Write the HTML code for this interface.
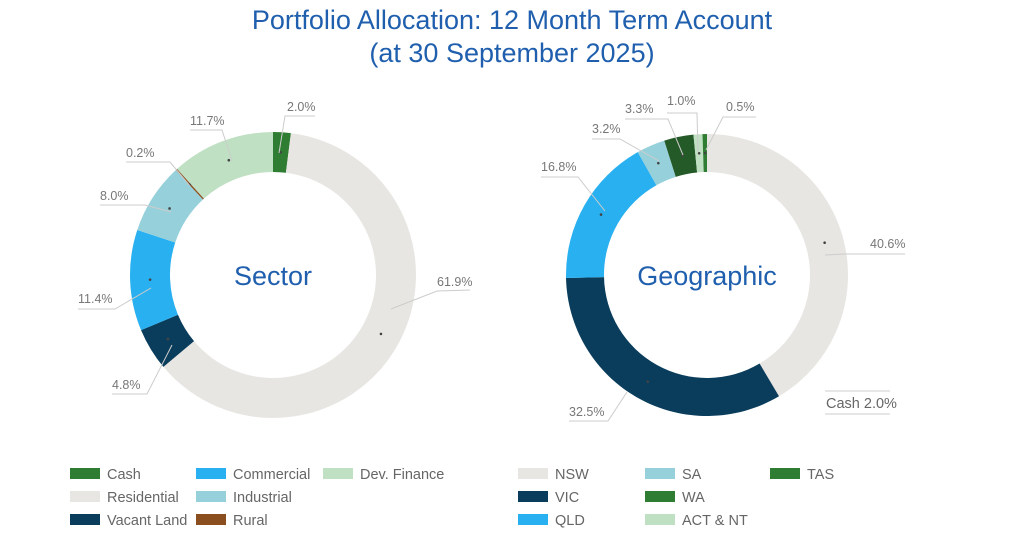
<!DOCTYPE html>
<html><head><meta charset="utf-8"><style>
html,body{margin:0;padding:0;background:#fff;width:1024px;height:548px;overflow:hidden}
svg{display:block}
text{font-family:"Liberation Sans",sans-serif}
.t{fill:#1f5fae;font-size:27px}
.l{fill:#777;font-size:12.5px}
.g{fill:#666;font-size:14.5px}
.ln{stroke:#ccc;stroke-width:1;fill:none}
</style></head><body>
<svg id="s" width="1024" height="548" xmlns="http://www.w3.org/2000/svg">
<text class="t" x="512" y="29" text-anchor="middle">Portfolio Allocation: 12 Month Term Account</text>
<text class="t" x="512" y="62" text-anchor="middle">(at 30 September 2025)</text>
<g id="d"></g>
<text x="273" y="285" text-anchor="middle" style="fill:#1f5fae;font-size:27px">Sector</text>
<text x="707" y="285" text-anchor="middle" style="fill:#1f5fae;font-size:27px">Geographic</text>
<g class="ln">
<polyline points="315,116 285,116 279,153"/>
<polyline points="190,130 222,130 232,161"/>
<polyline points="126,162 170,162 190,186"/>
<polyline points="100,205 145,205 171,212"/>
<polyline points="78,309 115,309 151,288"/>
<polyline points="112,394 147,394 172,345"/>
<polyline points="470,290 437,291 391,309"/>
<polyline points="756,117 723,117 706,150"/>
<polyline points="667,113 697,113 698,152"/>
<polyline points="625,119 668,119 683,155"/>
<polyline points="592,139 620,139 659,161"/>
<polyline points="541,177 578,177 605,211"/>
<polyline points="905,254 845,254 825,255"/>
<polyline points="825,391 890,391"/>
<polyline points="825,414 890,414"/>
<polyline points="569,421 608,421 627,392"/>
</g>
<g class="l">
<text x="287" y="111">2.0%</text>
<text x="190" y="125">11.7%</text>
<text x="126" y="157">0.2%</text>
<text x="100" y="200">8.0%</text>
<text x="78" y="303">11.4%</text>
<text x="112" y="389">4.8%</text>
<text x="437" y="286">61.9%</text>
<text x="726" y="111">0.5%</text>
<text x="667" y="105">1.0%</text>
<text x="625" y="113">3.3%</text>
<text x="592" y="133">3.2%</text>
<text x="541" y="171">16.8%</text>
<text x="870" y="248">40.6%</text>
<text x="569" y="416">32.5%</text>
</g>
<text x="826" y="408" style="fill:#666;font-size:14.5px">Cash 2.0%</text>
<g id="lg"></g>
</svg>
<script>
var NS="http://www.w3.org/2000/svg",d=document.getElementById('d');
function pt(cx,cy,r,a){a=a*Math.PI/180;return [cx+r*Math.sin(a),cy-r*Math.cos(a)];}
function donut(cx,cy,R,r,data){
 var tot=data.reduce(function(s,x){return s+x[0]},0),a=0;
 data.forEach(function(x){
  var b=a+x[0]/tot*360,l=(b-a)>180?1:0;
  var p1=pt(cx,cy,R,a),p2=pt(cx,cy,R,b),p3=pt(cx,cy,r,b),p4=pt(cx,cy,r,a);
  var p=document.createElementNS(NS,'path');
  p.setAttribute('d','M'+p1+'A'+R+','+R+' 0 '+l+' 1 '+p2+'L'+p3+'A'+r+','+r+' 0 '+l+' 0 '+p4+'Z');
  p.setAttribute('fill',x[1]);d.appendChild(p);
  var m=pt(cx,cy,(R+r)/2,(a+b)/2),c=document.createElementNS(NS,'circle');
  c.setAttribute('cx',m[0]);c.setAttribute('cy',m[1]);c.setAttribute('r',1.3);c.setAttribute('fill','#444');d.appendChild(c);
  a=b;});
}
donut(273,275,143,103,[[2.0,'#2e7d32'],[61.9,'#e8e6e3'],[4.8,'#0a3d5c'],[11.4,'#29b0f0'],[8.0,'#96d0db'],[0.2,'#8b4f1f'],[11.7,'#bfe0c2']]);
donut(707,275,141,103,[[40.6,'#e8e6e3'],[32.5,'#0a3d5c'],[16.8,'#29b0f0'],[3.2,'#96d0db'],[3.3,'#245a28'],[1.0,'#bfe0c2'],[0.5,'#2e7d32']]);
var lg=document.getElementById('lg');
[[70,474,'#2e7d32','Cash'],[70,497,'#e8e6e3','Residential'],[70,520,'#0a3d5c','Vacant Land'],
 [196,474,'#29b0f0','Commercial'],[196,497,'#96d0db','Industrial'],[196,520,'#8b4f1f','Rural'],
 [323,474,'#bfe0c2','Dev. Finance'],
 [518,474,'#e8e6e3','NSW'],[518,497,'#0a3d5c','VIC'],[518,520,'#29b0f0','QLD'],
 [645,474,'#96d0db','SA'],[645,497,'#2e7d32','WA'],[645,520,'#bfe0c2','ACT & NT'],
 [770,474,'#2e7d32','TAS']].forEach(function(e){
 var r=document.createElementNS(NS,'rect');r.setAttribute('x',e[0]);r.setAttribute('y',e[1]-6);
 r.setAttribute('width',30);r.setAttribute('height',11);r.setAttribute('fill',e[2]);lg.appendChild(r);
 var t=document.createElementNS(NS,'text');t.setAttribute('x',e[0]+37);t.setAttribute('y',e[1]+5);
 t.setAttribute('class','g');t.textContent=e[3];lg.appendChild(t);});
</script>
</body></html>
